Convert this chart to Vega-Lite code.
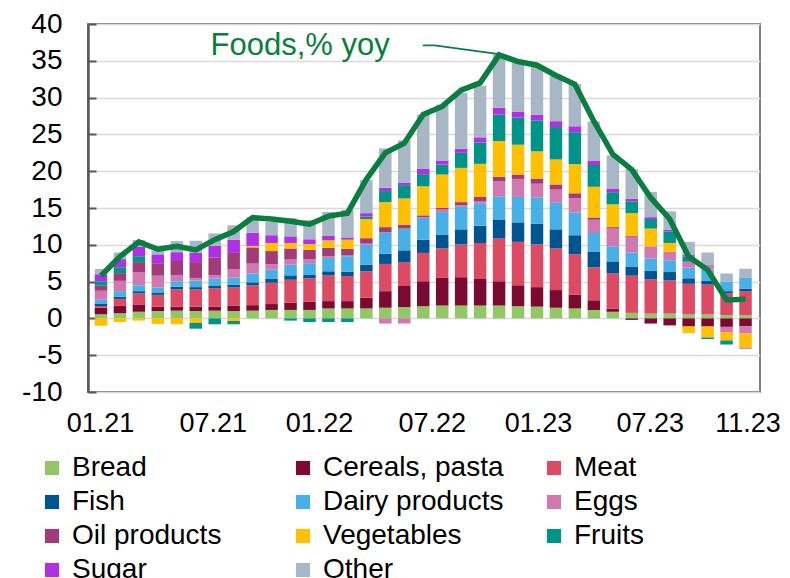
{
  "$schema": "https://vega.github.io/schema/vega-lite/v6.json",
  "width": 672,
  "height": 368,
  "autosize": {"type": "none"},
  "padding": {"left": 88, "top": 24, "right": 30, "bottom": 186},
  "config": {
    "font": "Liberation Sans",
    "view": {"stroke": "#7f7f7f", "strokeWidth": 2},
    "legend": {"labelFont": "Liberation Sans"}
  },
  "resolve": {"axis": {"y": "independent"}},
  "datasets": {
    "bars": [
      {"m": "01.21", "i": 0, "Bread": 0.55, "Cereals, pasta": 0.9, "Meat": 0.25, "Fish": 0.25, "Dairy products": 0.6, "Eggs": 1.2, "Oil products": 0.7, "Vegetables": -1.0, "Fruits": 0.6, "Sugar": 0.95, "Other": 0.7},
      {"m": "02.21", "i": 1, "Bread": 0.7, "Cereals, pasta": 1.0, "Meat": 0.95, "Fish": 0.3, "Dairy products": 0.75, "Eggs": 1.4, "Oil products": 1.05, "Vegetables": -0.5, "Fruits": 0.8, "Sugar": 1.1, "Other": 0.9},
      {"m": "03.21", "i": 2, "Bread": 0.9, "Cereals, pasta": 1.0, "Meat": 1.5, "Fish": 0.3, "Dairy products": 0.8, "Eggs": 1.75, "Oil products": 1.4, "Vegetables": -0.3, "Fruits": 0.8, "Sugar": 1.3, "Other": 0.9},
      {"m": "04.21", "i": 3, "Bread": 1.0, "Cereals, pasta": 0.6, "Meat": 1.6, "Fish": 0.25, "Dairy products": 0.75, "Eggs": 1.6, "Oil products": 1.7, "Vegetables": -0.75, "Fruits": 0, "Sugar": 1.2, "Other": 0.5},
      {"m": "05.21", "i": 4, "Bread": 1.05, "Cereals, pasta": 0.55, "Meat": 2.35, "Fish": 0.35, "Dairy products": 0.75, "Eggs": 0.8, "Oil products": 1.95, "Vegetables": -0.8, "Fruits": 0, "Sugar": 1.2, "Other": 1.5},
      {"m": "06.21", "i": 5, "Bread": 1.0, "Cereals, pasta": 0.6, "Meat": 2.35, "Fish": 0.3, "Dairy products": 0.9, "Eggs": 0.3, "Oil products": 2.2, "Vegetables": -0.6, "Fruits": -0.8, "Sugar": 1.3, "Other": 1.6},
      {"m": "07.21", "i": 6, "Bread": 1.05, "Cereals, pasta": 0.55, "Meat": 2.5, "Fish": 0.3, "Dairy products": 1.0, "Eggs": 0.5, "Oil products": 2.35, "Vegetables": 0, "Fruits": -0.8, "Sugar": 1.6, "Other": 1.7},
      {"m": "08.21", "i": 7, "Bread": 1.0, "Cereals, pasta": 0.7, "Meat": 2.5, "Fish": 0.4, "Dairy products": 0.95, "Eggs": 1.15, "Oil products": 2.2, "Vegetables": -0.35, "Fruits": -0.45, "Sugar": 1.8, "Other": 1.95},
      {"m": "09.21", "i": 8, "Bread": 1.05, "Cereals, pasta": 0.75, "Meat": 2.7, "Fish": 0.4, "Dairy products": 1.2, "Eggs": 1.35, "Oil products": 2.2, "Vegetables": 0.2, "Fruits": 0, "Sugar": 1.8, "Other": 2.1},
      {"m": "10.21", "i": 9, "Bread": 1.15, "Cereals, pasta": 0.8, "Meat": 2.9, "Fish": 0.5, "Dairy products": 1.3, "Eggs": 0.7, "Oil products": 1.8, "Vegetables": 1.1, "Fruits": 0, "Sugar": 1.05, "Other": 1.8},
      {"m": "11.21", "i": 10, "Bread": 1.15, "Cereals, pasta": 1.0, "Meat": 3.1, "Fish": 0.6, "Dairy products": 1.45, "Eggs": 0.7, "Oil products": 1.5, "Vegetables": 0.75, "Fruits": -0.3, "Sugar": 0.9, "Other": 2.5},
      {"m": "12.21", "i": 11, "Bread": 1.15, "Cereals, pasta": 1.1, "Meat": 3.2, "Fish": 0.45, "Dairy products": 1.6, "Eggs": 0.55, "Oil products": 1.25, "Vegetables": 0.8, "Fruits": -0.5, "Sugar": 0.65, "Other": 2.6},
      {"m": "01.22", "i": 12, "Bread": 1.35, "Cereals, pasta": 1.0, "Meat": 3.5, "Fish": 0.55, "Dairy products": 1.8, "Eggs": 0.25, "Oil products": 1.15, "Vegetables": 1.0, "Fruits": -0.5, "Sugar": 0.6, "Other": 3.25},
      {"m": "02.22", "i": 13, "Bread": 1.35, "Cereals, pasta": 1.0, "Meat": 3.4, "Fish": 0.6, "Dairy products": 2.1, "Eggs": 0.1, "Oil products": 0.9, "Vegetables": 1.25, "Fruits": -0.5, "Sugar": 0.3, "Other": 3.75},
      {"m": "03.22", "i": 14, "Bread": 1.35, "Cereals, pasta": 1.45, "Meat": 3.6, "Fish": 0.9, "Dairy products": 2.7, "Eggs": 0.15, "Oil products": 0.75, "Vegetables": 2.6, "Fruits": 0.35, "Sugar": 0.45, "Other": 4.5},
      {"m": "04.22", "i": 15, "Bread": 1.45, "Cereals, pasta": 2.25, "Meat": 3.7, "Fish": 1.4, "Dairy products": 2.9, "Eggs": -0.7, "Oil products": 0.7, "Vegetables": 3.4, "Fruits": 1.5, "Sugar": 0.45, "Other": 5.35},
      {"m": "05.22", "i": 16, "Bread": 1.55, "Cereals, pasta": 2.85, "Meat": 3.25, "Fish": 1.6, "Dairy products": 2.95, "Eggs": -0.7, "Oil products": 0.5, "Vegetables": 3.6, "Fruits": 1.8, "Sugar": 0.3, "Other": 5.8},
      {"m": "06.22", "i": 17, "Bread": 1.65, "Cereals, pasta": 3.4, "Meat": 3.85, "Fish": 1.8, "Dairy products": 2.95, "Eggs": 0.1, "Oil products": 0.25, "Vegetables": 3.95, "Fruits": 1.65, "Sugar": 0.7, "Other": 7.4},
      {"m": "07.22", "i": 18, "Bread": 1.75, "Cereals, pasta": 3.75, "Meat": 4.0, "Fish": 1.9, "Dairy products": 3.05, "Eggs": 0.35, "Oil products": 0.25, "Vegetables": 4.5, "Fruits": 1.35, "Sugar": 0.55, "Other": 7.6},
      {"m": "08.22", "i": 19, "Bread": 1.75, "Cereals, pasta": 3.85, "Meat": 4.45, "Fish": 2.05, "Dairy products": 3.05, "Eggs": 0.25, "Oil products": 0.4, "Vegetables": 4.65, "Fruits": 2.05, "Sugar": 0.55, "Other": 7.6},
      {"m": "09.22", "i": 20, "Bread": 1.75, "Cereals, pasta": 3.6, "Meat": 4.9, "Fish": 2.35, "Dairy products": 3.05, "Eggs": 0.25, "Oil products": 0.6, "Vegetables": 4.5, "Fruits": 2.9, "Sugar": 0.7, "Other": 7.0},
      {"m": "10.22", "i": 21, "Bread": 1.75, "Cereals, pasta": 3.3, "Meat": 5.8, "Fish": 2.6, "Dairy products": 3.15, "Eggs": 2.05, "Oil products": 0.6, "Vegetables": 4.85, "Fruits": 3.6, "Sugar": 0.9, "Other": 7.25},
      {"m": "11.22", "i": 22, "Bread": 1.65, "Cereals, pasta": 2.85, "Meat": 5.9, "Fish": 2.65, "Dairy products": 3.45, "Eggs": 2.45, "Oil products": 0.6, "Vegetables": 4.05, "Fruits": 3.7, "Sugar": 0.8, "Other": 7.0},
      {"m": "12.22", "i": 23, "Bread": 1.6, "Cereals, pasta": 2.65, "Meat": 5.8, "Fish": 2.8, "Dairy products": 3.6, "Eggs": 1.85, "Oil products": 0.7, "Vegetables": 3.7, "Fruits": 4.2, "Sugar": 0.75, "Other": 6.55},
      {"m": "01.23", "i": 24, "Bread": 1.45, "Cereals, pasta": 2.4, "Meat": 5.65, "Fish": 2.6, "Dairy products": 3.6, "Eggs": 1.8, "Oil products": 0.7, "Vegetables": 3.4, "Fruits": 4.4, "Sugar": 0.8, "Other": 6.35},
      {"m": "02.23", "i": 25, "Bread": 1.35, "Cereals, pasta": 1.9, "Meat": 5.45, "Fish": 2.6, "Dairy products": 3.1, "Eggs": 1.95, "Oil products": 0.65, "Vegetables": 3.95, "Fruits": 4.35, "Sugar": 0.8, "Other": 5.75},
      {"m": "03.23", "i": 26, "Bread": 1.15, "Cereals, pasta": 1.3, "Meat": 4.5, "Fish": 2.15, "Dairy products": 2.5, "Eggs": 1.8, "Oil products": 0.3, "Vegetables": 4.2, "Fruits": 2.95, "Sugar": 0.6, "Other": 5.3},
      {"m": "04.23", "i": 27, "Bread": 0.9, "Cereals, pasta": 0.4, "Meat": 4.8, "Fish": 1.65, "Dairy products": 2.05, "Eggs": 2.4, "Oil products": 0.2, "Vegetables": 3.1, "Fruits": 1.65, "Sugar": 0.5, "Other": 4.5},
      {"m": "05.23", "i": 28, "Bread": 0.75, "Cereals, pasta": -0.2, "Meat": 5.05, "Fish": 1.25, "Dairy products": 1.9, "Eggs": 2.15, "Oil products": 0.15, "Vegetables": 3.05, "Fruits": 1.6, "Sugar": 0.35, "Other": 4.05},
      {"m": "06.23", "i": 29, "Bread": 0.65, "Cereals, pasta": -0.7, "Meat": 4.65, "Fish": 1.15, "Dairy products": 1.7, "Eggs": 1.65, "Oil products": 0, "Vegetables": 2.4, "Fruits": 1.3, "Sugar": 0.25, "Other": 3.45},
      {"m": "07.23", "i": 30, "Bread": 0.65, "Cereals, pasta": -0.95, "Meat": 4.5, "Fish": 1.15, "Dairy products": 1.6, "Eggs": 1.15, "Oil products": 0, "Vegetables": 1.2, "Fruits": 1.55, "Sugar": 0.25, "Other": 2.5},
      {"m": "08.23", "i": 31, "Bread": 0.55, "Cereals, pasta": -1.1, "Meat": 4.15, "Fish": 0.75, "Dairy products": 1.45, "Eggs": 0.8, "Oil products": 0, "Vegetables": -0.9, "Fruits": 0.7, "Sugar": 0.2, "Other": 1.8},
      {"m": "09.23", "i": 32, "Bread": 0.55, "Cereals, pasta": -1.1, "Meat": 4.05, "Fish": 0.55, "Dairy products": 1.5, "Eggs": 0.7, "Oil products": 0, "Vegetables": -1.5, "Fruits": -0.2, "Sugar": 0, "Other": 1.6},
      {"m": "10.23", "i": 33, "Bread": 0.45, "Cereals, pasta": -1.15, "Meat": 2.95, "Fish": 0.3, "Dairy products": 1.25, "Eggs": -0.7, "Oil products": 0, "Vegetables": -1.15, "Fruits": -0.55, "Sugar": 0, "Other": 1.15},
      {"m": "11.23", "i": 34, "Bread": 0.45, "Cereals, pasta": -1.05, "Meat": 3.25, "Fish": 0.35, "Dairy products": 1.45, "Eggs": -1.0, "Oil products": 0, "Vegetables": -1.95, "Fruits": 0, "Sugar": -0.1, "Other": 1.25}
    ],
    "cats": [
      {"cat": "Bread", "k": 1}, {"cat": "Cereals, pasta", "k": 2}, {"cat": "Meat", "k": 3},
      {"cat": "Fish", "k": 4}, {"cat": "Dairy products", "k": 5}, {"cat": "Eggs", "k": 6},
      {"cat": "Oil products", "k": 7}, {"cat": "Vegetables", "k": 8}, {"cat": "Fruits", "k": 9},
      {"cat": "Sugar", "k": 10}, {"cat": "Other", "k": 11}
    ],
    "foods": [
      {"i": 0, "y": 5.8}, {"i": 1, "y": 8.4}, {"i": 2, "y": 10.4}, {"i": 3, "y": 9.4}, {"i": 4, "y": 9.8},
      {"i": 5, "y": 9.3}, {"i": 6, "y": 10.7}, {"i": 7, "y": 11.8}, {"i": 8, "y": 13.7}, {"i": 9, "y": 13.5},
      {"i": 10, "y": 13.2}, {"i": 11, "y": 12.8}, {"i": 12, "y": 13.9}, {"i": 13, "y": 14.3}, {"i": 14, "y": 18.9},
      {"i": 15, "y": 22.5}, {"i": 16, "y": 23.8}, {"i": 17, "y": 27.7}, {"i": 18, "y": 28.8}, {"i": 19, "y": 31.0},
      {"i": 20, "y": 32.0}, {"i": 21, "y": 35.8}, {"i": 22, "y": 34.9}, {"i": 23, "y": 34.4}, {"i": 24, "y": 33.0},
      {"i": 25, "y": 31.8}, {"i": 26, "y": 26.8}, {"i": 27, "y": 22.3}, {"i": 28, "y": 20.2}, {"i": 29, "y": 16.4},
      {"i": 30, "y": 13.5}, {"i": 31, "y": 8.4}, {"i": 32, "y": 6.6}, {"i": 33, "y": 2.5}, {"i": 34, "y": 2.6}
    ],
    "leader": [
      {"i": 16.98, "y": 37.1, "o": 1}, {"i": 17.6, "y": 37.1, "o": 2}, {"i": 21.0, "y": 35.9, "o": 3}
    ],
    "label": [
      {"i": 5.78, "y": 36.95, "t": "Foods,% yoy"}
    ]
  },
  "layer": [
    {
      "mark": {"type": "rule", "color": "#d9d9d9", "strokeWidth": 1.5},
      "encoding": {"x": {"datum": 11.5, "type": "quantitative"}}
    },
    {
      "mark": {"type": "rule", "color": "#d9d9d9", "strokeWidth": 1.5},
      "encoding": {"x": {"datum": 23.5, "type": "quantitative"}}
    },
    {
      "data": {"name": "bars"},
      "transform": [
        {"fold": ["Bread", "Cereals, pasta", "Meat", "Fish", "Dairy products", "Eggs", "Oil products", "Vegetables", "Fruits", "Sugar", "Other"], "as": ["cat", "v"]},
        {"lookup": "cat", "from": {"data": {"name": "cats"}, "key": "cat", "fields": ["k"]}}
      ],
      "mark": {"type": "bar", "width": 12.5},
      "encoding": {
        "x": {
          "field": "i", "type": "quantitative",
          "scale": {"domain": [-0.42, 34.5], "nice": false, "zero": false},
          "axis": {
            "values": [-0.05, 5.9, 11.5, 17.45, 23.05, 28.95, 34.1],
            "labelExpr": "datum.value < 3 ? '01.21' : datum.value < 9 ? '07.21' : datum.value < 14 ? '01.22' : datum.value < 20 ? '07.22' : datum.value < 26 ? '01.23' : datum.value < 31 ? '07.23' : '11.23'",
            "domain": false, "ticks": false, "grid": false, "title": null,
            "labelFontSize": 27, "labelColor": "#000000", "labelPadding": 18, "labelFlush": false, "labelOverlap": false
          }
        },
        "y": {
          "field": "v", "type": "quantitative", "stack": "zero",
          "scale": {"domain": [-10, 40], "nice": false},
          "axis": {
            "orient": "left",
            "values": [-10, -5, 0, 5, 10, 15, 20, 25, 30, 35, 40],
            "labelExpr": "datum.value + ''",
            "title": null, "grid": true, "gridColor": "#d9d9d9", "gridWidth": 1.5,
            "domain": true, "domainColor": "#595959", "domainWidth": 2.5,
            "ticks": false, "labelOverlap": false, "labelFlush": false,
            "labelFontSize": 28, "labelColor": "#000000", "labelPadding": 26
          }
        },
        "color": {
          "field": "cat", "type": "nominal",
          "scale": {
            "domain": ["Bread", "Cereals, pasta", "Meat", "Fish", "Dairy products", "Eggs", "Oil products", "Vegetables", "Fruits", "Sugar", "Other"],
            "range": ["#92c765", "#7a0a30", "#dc4b63", "#00548f", "#47b0e6", "#d278b0", "#a23c78", "#ffc000", "#009489", "#b130e3", "#a8b7c5"]
          },
          "legend": {
            "orient": "none", "legendX": -50, "legendY": 430, "columns": 3, "direction": "horizontal", "title": null,
            "symbolType": "square", "symbolSize": 200, "symbolStrokeWidth": 0,
            "labelFontSize": 28, "labelColor": "#000000", "labelOffset": 6, "labelLimit": 400,
            "rowPadding": 6, "columnPadding": 36, "gridAlign": "all", "padding": 0
          }
        },
        "order": {"field": "k", "type": "quantitative"}
      }
    },
    {
      "mark": {"type": "rule", "color": "#595959", "strokeWidth": 2.5},
      "encoding": {"y": {"datum": 0, "type": "quantitative", "axis": null}}
    },
    {
      "mark": {"type": "rule", "color": "#595959", "strokeWidth": 2},
      "encoding": {
        "x": {"datum": 11.5, "type": "quantitative"},
        "y": {"datum": 0, "type": "quantitative", "axis": null},
        "y2": {"datum": -0.7}
      }
    },
    {
      "mark": {"type": "rule", "color": "#595959", "strokeWidth": 2},
      "encoding": {
        "x": {"datum": 23.5, "type": "quantitative"},
        "y": {"datum": 0, "type": "quantitative", "axis": null},
        "y2": {"datum": -0.7}
      }
    },
    {
      "data": {"name": "foods"},
      "mark": {"type": "line", "color": "#0a7d40", "strokeWidth": 5.5, "strokeJoin": "miter"},
      "encoding": {
        "x": {"field": "i", "type": "quantitative"},
        "y": {
          "field": "y", "type": "quantitative",
          "axis": {
            "orient": "left", "offset": -8, "values": [-10, -5, 0, 5, 10, 15, 20, 25, 30, 35, 40],
            "labels": false, "domain": false, "grid": false, "title": null,
            "ticks": true, "tickSize": 8, "tickColor": "#595959", "tickWidth": 2
          }
        }
      }
    },
    {
      "data": {"name": "leader"},
      "mark": {"type": "line", "color": "#0a7d40", "strokeWidth": 1.8},
      "encoding": {
        "x": {"field": "i", "type": "quantitative"},
        "y": {"field": "y", "type": "quantitative", "axis": null},
        "order": {"field": "o", "type": "quantitative"}
      }
    },
    {
      "data": {"name": "label"},
      "mark": {"type": "text", "color": "#0a7d40", "fontSize": 31, "align": "left", "baseline": "middle", "font": "Liberation Sans"},
      "encoding": {
        "x": {"field": "i", "type": "quantitative"},
        "y": {"field": "y", "type": "quantitative", "axis": null},
        "text": {"field": "t"}
      }
    },
    {
      "mark": {"type": "rect", "color": "#f9d1df", "opacity": 0.5},
      "encoding": {
        "x": {"datum": 33.5, "type": "quantitative"},
        "x2": {"datum": 34.5},
        "y": {"datum": -10, "type": "quantitative", "axis": null},
        "y2": {"datum": 40}
      }
    }
  ]
}
